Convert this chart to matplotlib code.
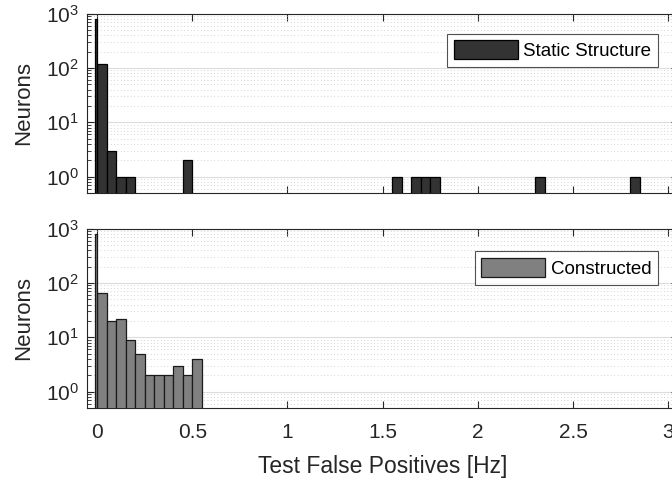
import matplotlib
matplotlib.use("Agg")
import matplotlib.pyplot as plt
from matplotlib.ticker import LogLocator, FixedLocator, NullFormatter
import numpy as np

plt.rcParams['font.family'] = ['Liberation Sans', 'DejaVu Sans']
plt.rcParams['mathtext.default'] = 'regular'

bin_width = 0.05
# Static Structure histogram (bin left edges / counts)
static_bins = [0.00, 0.05, 0.10, 0.15, 0.45, 1.55, 1.65, 1.70, 1.75, 2.30, 2.80]
static_counts = [118, 3, 1, 1, 2, 1, 1, 1, 1, 1, 1]
static_zero = 790   # thin spike at zero

# Constructed histogram
constr_bins = [0.00, 0.05, 0.10, 0.15, 0.20, 0.25, 0.30, 0.35, 0.40, 0.45, 0.50]
constr_counts = [65, 20, 22, 9, 5, 2, 2, 2, 3, 2, 4]
constr_zero = 790

xticks = [0, 0.5, 1, 1.5, 2, 2.5, 3]
xticklabels = ['0', '0.5', '1', '1.5', '2', '2.5', '3']

fig = plt.figure(figsize=(6.72, 4.8), dpi=100)
ax1 = fig.add_axes([87/672, 1-193/480, 591/672, 179.5/480])
ax2 = fig.add_axes([87/672, 1-408/480, 591/672, 179.5/480])

spine_col = '#262626'
series = [
    (ax1, static_bins, static_counts, static_zero, '#333333', '#000000', 'Static Structure', 0.888),
    (ax2, constr_bins, constr_counts, constr_zero, '#808080', '#1a1a1a', 'Constructed', 0.872),
]

for ax, bins, counts, zero, fc, ec, lab, ly in series:
    ax.set_yscale('log', nonpositive='clip')
    ax.bar(bins, counts, width=bin_width, align='edge', color=fc,
           edgecolor=ec, linewidth=0.9, label=lab, zorder=3)
    ax.bar([0.0], [zero], width=-0.012, align='edge', color=fc,
           edgecolor=ec, linewidth=0.9, zorder=3)
    ax.set_xlim(-0.0525, 3.05)
    ax.set_ylim(0.5, 1000)
    ax.set_xticks(xticks)
    ax.yaxis.set_major_locator(FixedLocator([1, 10, 100, 1000]))
    ax.yaxis.set_minor_locator(LogLocator(base=10, subs=np.arange(2, 10), numticks=20))
    ax.yaxis.set_minor_formatter(NullFormatter())
    ax.set_yticklabels(['$10^{0}$', '$10^{1}$', '$10^{2}$', '$10^{3}$'])
    ax.grid(True, which='major', axis='y', color='#dcdcdc', linewidth=0.8, zorder=0)
    ax.grid(True, which='minor', axis='y', color='#c8c8c8', linewidth=0.6,
            linestyle=(0, (1, 3)), zorder=0)
    ax.set_axisbelow(True)
    ax.tick_params(which='both', direction='in', top=True, right=True,
                   colors=spine_col, labelcolor='#262626', labelsize=15)
    ax.tick_params(which='major', length=5, width=0.8)
    ax.tick_params(which='minor', length=3, width=0.6)
    ax.tick_params(axis='x', which='minor', bottom=False, top=False)
    ax.tick_params(axis='x', which='major', pad=11)
    ax.tick_params(axis='y', which='major', pad=6)
    for s in ax.spines.values():
        s.set_color(spine_col)
        s.set_linewidth(0.8)
    ax.set_ylabel('Neurons', fontsize=16, color='#262626', labelpad=8)
    leg = ax.legend(loc='upper right', bbox_to_anchor=(0.966, ly),
                    fontsize=13.5, frameon=True, fancybox=False,
                    handlelength=3.4, handleheight=1.2, handletextpad=0.3,
                    borderpad=0.35, borderaxespad=0.0)
    leg.get_frame().set_edgecolor('#262626')
    leg.get_frame().set_linewidth(0.8)

ax1.set_xticklabels([])
ax2.set_xticklabels(xticklabels)
ax2.set_xlabel('Test False Positives [Hz]', fontsize=16.5, color='#262626', labelpad=9)

fig.savefig('out.png', dpi=100)
